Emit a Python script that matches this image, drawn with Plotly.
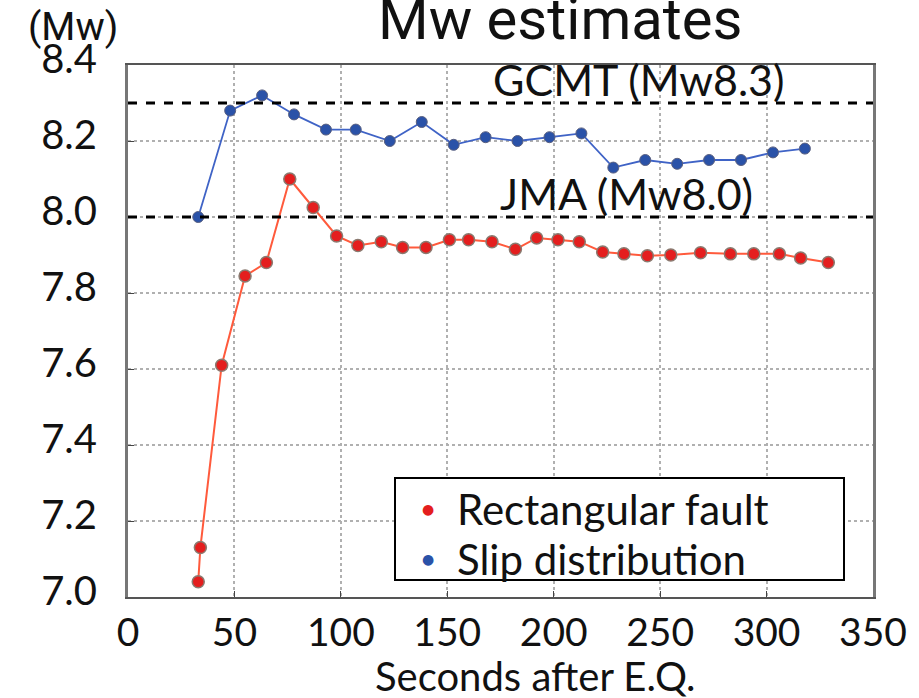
import plotly.graph_objects as go

# ---- data ----
slip_sec = [33, 48, 63, 78, 93, 107, 123, 138, 153, 168, 183, 198, 213, 228, 243, 258, 273, 288, 303, 318]
slip_mw = [8.00, 8.28, 8.32, 8.27, 8.23, 8.23, 8.20, 8.25, 8.19, 8.21, 8.20, 8.21, 8.22, 8.13, 8.15, 8.14, 8.15, 8.15, 8.17, 8.18]

rect_sec = [33, 34, 44, 55, 65, 76, 87, 98, 108, 119, 129, 140, 151, 160, 171, 182, 192, 202, 212, 223, 233, 244, 255, 269, 283, 294, 306, 316, 329]
rect_mw = [7.04, 7.13, 7.61, 7.845, 7.88, 8.10, 8.025, 7.95, 7.925, 7.935, 7.92, 7.92, 7.94, 7.94, 7.935, 7.915, 7.945, 7.94, 7.935, 7.908, 7.903, 7.898, 7.90, 7.906, 7.903, 7.903, 7.903, 7.892, 7.88]

series_names = ["Rectangular fault", "Slip distribution"]
series_colors = ["#e41e1e", "#2a52a8"]

ref_labels = ["GCMT (Mw8.3)", "JMA (Mw8.0)"]
ref_values = [8.3, 8.0]
ref_label_x = [240, 234]

x_ticks = [0, 50, 100, 150, 200, 250, 300, 350]
y_ticks = [7.0, 7.2, 7.4, 7.6, 7.8, 8.0, 8.2, 8.4]

FONT = "Lato, Carlito, 'Open Sans', sans-serif"
NARROW = "'Liberation Sans Narrow', 'Arial Narrow', Roboto, sans-serif"

# plot-area geometry in pixels
L, R, T, B = 128, 873, 65, 597
W, H = R - L, B - T


def px(xp):
    return (xp - L) / W


def py(yp):
    return (B - yp) / H


fig = go.Figure()

fig.add_trace(go.Scatter(
    x=rect_sec, y=rect_mw, mode="lines+markers", name=series_names[0], showlegend=False,
    line=dict(color="#ff5a3c", width=2),
    marker=dict(color=series_colors[0], size=12, line=dict(color="#8a7a70", width=1.5)),
))
fig.add_trace(go.Scatter(
    x=slip_sec, y=slip_mw, mode="lines+markers", name=series_names[1], showlegend=False,
    line=dict(color="#3f63c6", width=1.8),
    marker=dict(color=series_colors[1], size=11, line=dict(color="#5a6080", width=1)),
))

for lab, val, lx in zip(ref_labels, ref_values, ref_label_x):
    fig.add_hline(y=val, line=dict(color="black", width=3, dash="dash"))
    fig.add_annotation(x=lx, y=val, text=lab, showarrow=False, yanchor="bottom", yshift=-4,
                       font=dict(family=FONT, size=43, color="#111"))

# title (cut off at the top, as in the reference)
fig.add_annotation(x=px(560), xref="paper", y=py(55), yref="paper", text="Mw estimates",
                   showarrow=False, yanchor="bottom",
                   font=dict(family=NARROW, size=58, color="#111"))
# y unit
fig.add_annotation(x=px(73), xref="paper", y=py(27), yref="paper", text="(Mw)",
                   showarrow=False, xanchor="center", yanchor="middle",
                   font=dict(family=NARROW, size=39, color="#111"))
# x axis title
fig.add_annotation(x=px(535), xref="paper", y=py(676), yref="paper", text="Seconds after E.Q.",
                   showarrow=False, xanchor="center", yanchor="middle",
                   font=dict(family=FONT, size=40, color="#111"))

# legend box
fig.add_shape(type="rect", xref="paper", yref="paper", x0=px(395), x1=px(844), y0=py(580), y1=py(478),
              line=dict(color="black", width=2), fillcolor="white", layer="above")
for i, (nm, col) in enumerate(zip(series_names, series_colors)):
    yc = py(509 + 50 * i)
    fig.add_annotation(x=px(428), xref="paper", y=yc, yref="paper", text="\u25cf", showarrow=False,
                       xanchor="center", yanchor="middle", font=dict(family="DejaVu Sans", size=14, color=col))
    fig.add_annotation(x=px(455), xref="paper", y=yc, yref="paper", text=nm, showarrow=False,
                       xanchor="left", yanchor="middle", font=dict(family=FONT, size=42, color="#111"))

fig.update_xaxes(
    range=[0, 350], tickvals=x_ticks, ticktext=[str(v) for v in x_ticks],
    showgrid=True, gridcolor="#b0b0b0", griddash="dot", gridwidth=1.5,
    showline=True, linecolor="#555", linewidth=2, mirror=True,
    ticks="inside", ticklen=6, tickcolor="#444", zeroline=False,
    tickfont=dict(family=FONT, size=39, color="#111"), ticklabelstandoff=0,
)
fig.update_yaxes(
    range=[7.0, 8.4], tickvals=y_ticks, ticktext=[f"{v:.1f}" for v in y_ticks],
    showgrid=True, gridcolor="#b0b0b0", griddash="dot", gridwidth=1.5,
    showline=True, linecolor="#777", linewidth=3, mirror=True,
    ticks="inside", ticklen=6, tickcolor="#444", zeroline=False,
    tickfont=dict(family=FONT, size=40, color="#111"), ticklabelstandoff=20, ticklabelshift=-6,
)

fig.update_layout(
    width=919, height=698,
    margin=dict(l=L, r=919 - R, t=T, b=698 - B),
    plot_bgcolor="white", paper_bgcolor="white",
    showlegend=False,
)

fig.write_html("out.html")
